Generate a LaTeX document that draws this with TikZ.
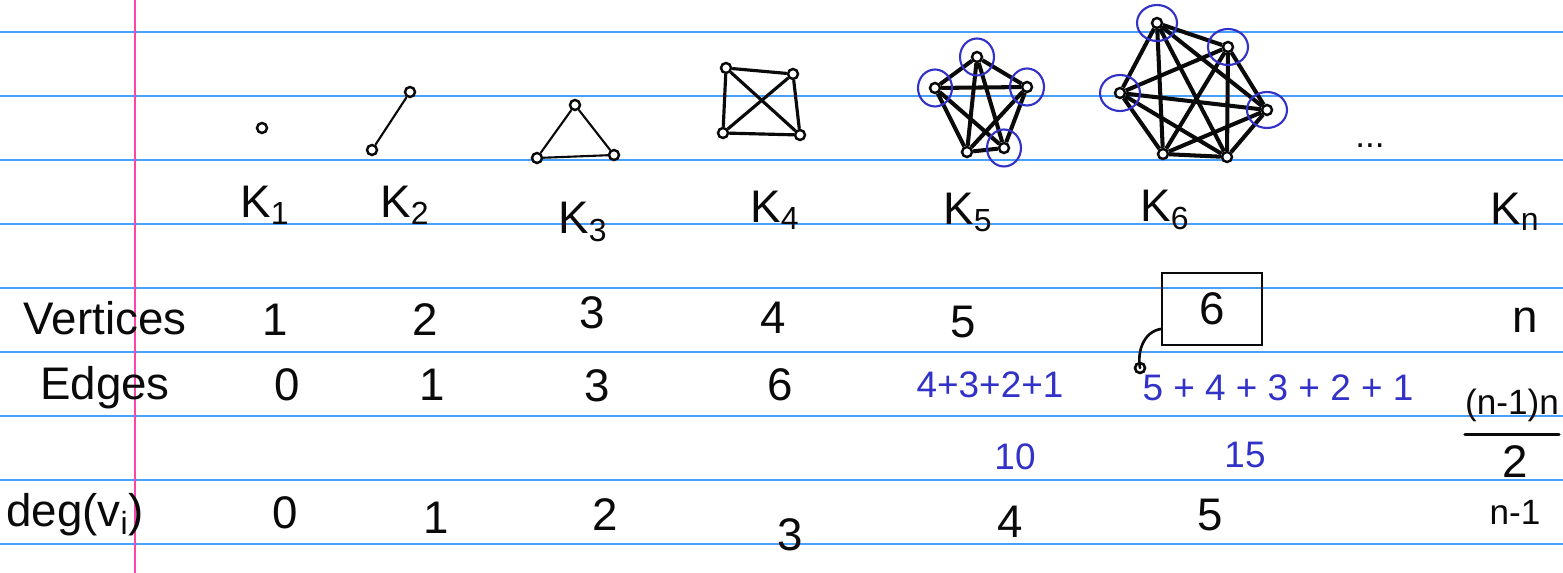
\documentclass[tikz,border=0pt]{standalone}
\usepackage{fontspec}
\setmainfont{Liberation Sans}
\usepackage{tikz}
\usetikzlibrary{positioning}
\definecolor{ruleblue}{RGB}{70,160,250}
\definecolor{marginpink}{RGB}{250,70,170}
\definecolor{penblue}{RGB}{50,50,200}
\definecolor{penblack}{RGB}{10,10,10}
\tikzset{
  rule/.style={ruleblue, line width=1pt},
  marginline/.style={marginpink, line width=1.2pt},
  vert/.style={circle, draw=penblack, fill=white, line width=1.4pt,
    inner sep=0pt, minimum size=0.2cm},
  thinedge/.style={penblack, line width=1.2pt},
  gedge/.style={penblack, line width=1.8pt},
  bigedge/.style={penblack, line width=2.3pt},
  hilite/.style={penblue, line width=1.2pt},
  handline/.style={penblack, line width=1.5pt, line cap=round},
  hand/.style={font=\fontsize{26}{30}\selectfont, text=penblack, inner sep=0pt},
  smallhand/.style={font=\fontsize{20}{24}\selectfont, text=penblack, inner sep=0pt},
  bluehand/.style={font=\fontsize{21}{25}\selectfont, text=penblue, inner sep=0pt}
}

\begin{document}
\begin{tikzpicture}[x=0.02cm, y=-0.02cm]
  % Paper
  \fill[white] (0,0) rectangle (1563,573);
  \useasboundingbox (0,0) rectangle (1563,573);
  \foreach \y in {32,96,...,544}
    \draw[rule] (0,\y) -- (1563,\y);
  \draw[marginline] (135,0) -- (135,573);

  % K1
  \node[vert] (a1) at (262,128) {};
  % K2
  \node[vert] (b1) at (372,150) {};
  \node[vert] (b2) at (410,92) {};
  \draw[thinedge] (b1) -- (b2);
  % K3
  \node[vert] (c1) at (575,105) {};
  \node[vert] (c2) at (537,158) {};
  \node[vert] (c3) at (614,155) {};
  \draw[thinedge] (c1) -- (c2) -- (c3) -- (c1);
  % K4
  \node[vert] (d1) at (726,68) {};
  \node[vert] (d2) at (793,74) {};
  \node[vert] (d3) at (723,133) {};
  \node[vert] (d4) at (800,135) {};
  \foreach \i/\j in {d1/d2,d1/d3,d1/d4,d2/d3,d2/d4,d3/d4}
    \draw[gedge] (\i) -- (\j);
  % K5
  \node[vert] (e1) at (977,57) {};
  \node[vert] (e2) at (935,88) {};
  \node[vert] (e3) at (1027,87) {};
  \node[vert] (e4) at (967,152) {};
  \node[vert] (e5) at (1004,148) {};
  \foreach \i/\j in {e1/e2,e1/e3,e1/e4,e1/e5,e2/e3,e2/e4,e2/e5,e3/e4,e3/e5,e4/e5}
    \draw[bigedge] (\i) -- (\j);
  \foreach \v in {e1,e2,e3,e5}
    \draw[hilite] (\v) circle [x radius=0.34cm, y radius=0.37cm];
  % K6
  \node[vert] (f1) at (1157,23) {};
  \node[vert] (f2) at (1228,47) {};
  \node[vert] (f3) at (1120,93) {};
  \node[vert] (f4) at (1267,110) {};
  \node[vert] (f5) at (1163,154) {};
  \node[vert] (f6) at (1227,157) {};
  \foreach \i/\j in {f1/f2,f1/f3,f1/f4,f1/f5,f1/f6,f2/f3,f2/f4,f2/f5,f2/f6,
                     f3/f4,f3/f5,f3/f6,f4/f5,f4/f6,f5/f6}
    \draw[bigedge] (\i) -- (\j);
  \foreach \v in {f1,f2,f3,f4}
    \draw[hilite] (\v) circle [x radius=0.4cm, y radius=0.36cm];
  \node[smallhand] (dots) at (1370,146) {...};

  % Graph names
  \node[hand] (lk1) at (265,205) {K\textsubscript{1}};
  \node[hand] (lk2) at (405,205) {K\textsubscript{2}};
  \node[hand] (lk3) at (583,222) {K\textsubscript{3}};
  \node[hand] (lk4) at (775,210) {K\textsubscript{4}};
  \node[hand] (lk5) at (968,212) {K\textsubscript{5}};
  \node[hand] (lk6) at (1165,210) {K\textsubscript{6}};
  \node[hand] (lkn) at (1515,212) {K\textsubscript{n}};

  % Row labels
  \node[hand] (rv) at (105,318) {Vertices};
  \node[hand] (re) at (105,388) {Edges};
  \node[hand] (rd) at (75,515) {deg(v\textsubscript{i})};

  % Vertices
  \node[hand] (v1) at (275,320) {1};
  \node[hand] (v2) at (425,320) {2};
  \node[hand] (v3) at (592,313) {3};
  \node[hand] (v4) at (773,318) {4};
  \node[hand] (v5) at (963,322) {5};
  \node[hand, draw=penblack, line width=1.5pt, minimum width=2cm,
    minimum height=1.44cm] (v6) at (1212,309) {6};
  \node[hand] (vn) at (1525,320) {n};

  % Edges
  \node[hand] (ed1) at (287,385) {0};
  \node[hand] (ed2) at (432,385) {1};
  \node[hand] (ed3) at (597,386) {3};
  \node[hand] (ed4) at (780,385) {6};
  \node[bluehand] (ed5) at (990,385) {4+3+2+1};
  \node[bluehand] (ed6) at (1278,388) {5 + 4 + 3 + 2 + 1};
  \node[bluehand] (sum5) at (1015,457) {10};
  \node[bluehand] (sum6) at (1245,455) {15};
  \node[smallhand] (knum) at (1512,405) {(n-1)n};
  \node[hand] (kden) at (1515,462) {2};
  \draw[handline] ([yshift=-0.25cm]knum.south west) -- ([yshift=-0.25cm]knum.south east);
  \coordinate (hook) at (1140,368);
  \draw[handline] ([yshift=-0.4cm]v6.west) to[out=190,in=100] (hook);
  \draw[handline] (hook) circle (0.1cm);

  % Degrees
  \node[hand] (dg1) at (285,513) {0};
  \node[hand] (dg2) at (436,518) {1};
  \node[hand] (dg3) at (605,515) {2};
  \node[hand] (dg4) at (790,535) {3};
  \node[hand] (dg5) at (1010,522) {4};
  \node[hand] (dg6) at (1210,515) {5};
  \node[smallhand] (dgn) at (1515,512) {n-1};
\end{tikzpicture}
\end{document}
